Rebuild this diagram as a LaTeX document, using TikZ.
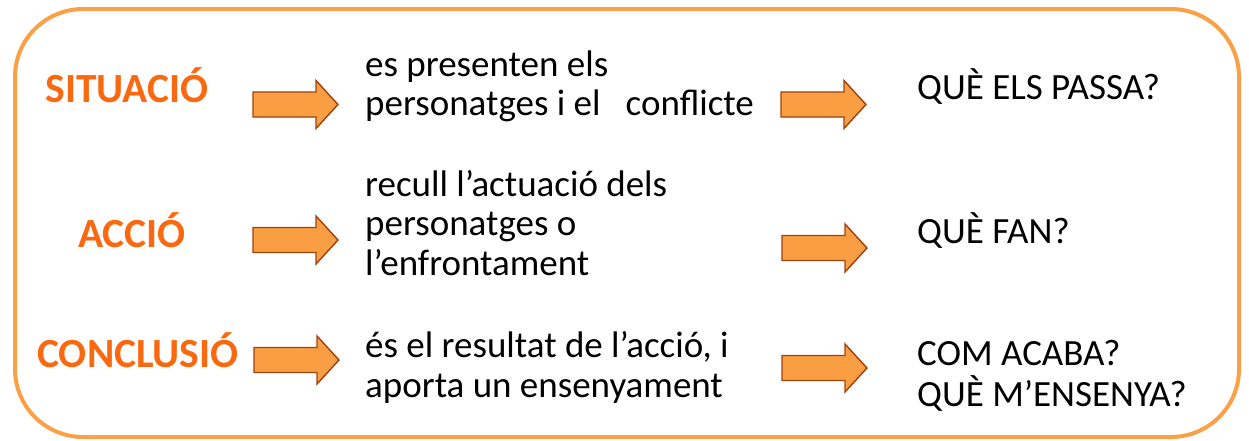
\documentclass[tikz,border=0pt]{standalone}
\usepackage{fontspec}
\setmainfont{Carlito}
\definecolor{frameor}{RGB}{250,160,70}
\definecolor{arrfill}{RGB}{250,158,68}
\definecolor{arrdraw}{RGB}{160,65,10}
\definecolor{titleor}{RGB}{250,105,15}
\tikzset{
  x=1pt, y=-1pt,
  txt/.style={anchor=base west, inner sep=0pt, font=\fontsize{37}{40}\selectfont, text=black},
  ttl/.style={anchor=base, inner sep=0pt, font=\fontsize{41.5}{44}\selectfont\bfseries, text=titleor},
  fatarrow/.pic={
    \draw[arrdraw, fill=arrfill, line width=1.4pt, line join=miter]
      (0,-12.5) -- (63,-12.5) -- (63,-24) -- (85,0) -- (63,24) -- (63,12.5) -- (0,12.5) -- cycle;
  }
}
\begin{document}
\begin{tikzpicture}
\useasboundingbox (0,0) rectangle (1249,440);
\draw[frameor, line width=4pt, rounded corners=68pt] (15,9) rectangle (1239,437);

% titles
\node[ttl] (t1) at (127,102) {SITUACIÓ};
\node[ttl] (t2) at (132,247) {ACCIÓ};
\node[ttl] (t3) at (138,367) {CONCLUSIÓ};

% left arrows
\pic at (253,104.5) {fatarrow};
\pic at (253,240) {fatarrow};
\pic at (254,360) {fatarrow};
% right arrows
\pic at (781,104.5) {fatarrow};
\pic at (782,248) {fatarrow};
\pic at (782,368) {fatarrow};

% middle texts
\node[txt] (m11) at (365,76) {es presenten els};
\node[txt] (m12) at (365,115) {personatges i el\ \ \ conflicte};
\node[txt] (m21) at (365,196) {recull l’actuació dels};
\node[txt] (m22) at (365,235) {personatges o};
\node[txt] (m23) at (365,275) {l’enfrontament};
\node[txt] (m31) at (365,357) {és el resultat de l’acció, i};
\node[txt] (m32) at (365,397) {aporta un ensenyament};

% right texts
\node[txt] (r1) at (917,99) {QUÈ ELS PASSA?};
\node[txt] (r2) at (917,243) {QUÈ FAN?};
\node[txt] (r31) at (917,365) {COM ACABA?};
\node[txt] (r32) at (917,406) {QUÈ M’ENSENYA?};
\end{tikzpicture}
\end{document}
